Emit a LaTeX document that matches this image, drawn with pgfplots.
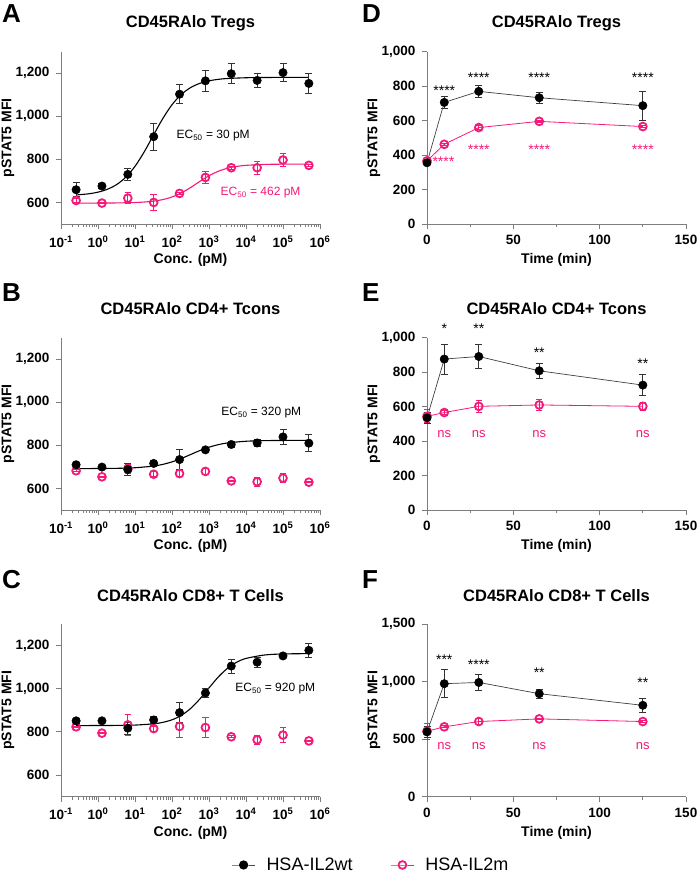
\documentclass[border=0pt]{standalone}
\usepackage{fontspec}
\setmainfont{Liberation Sans}
\usepackage{pgfplots}
\pgfplotsset{compat=1.18}
\definecolor{pk}{RGB}{245,25,120}
\definecolor{axgray}{RGB}{125,125,125}

\pgfplotsset{
  panelbase/.style={
    scale only axis, width=259pt, height=172.5pt,
    axis lines=left, axis line style={-, axgray, line width=0.9pt},
    tick align=outside, major tick length=5pt, minor tick length=3pt,
    tick style={axgray, line width=0.8pt},
    tick label style={font=\fontsize{13.5}{15}\selectfont\bfseries},
    yticklabel style={xshift=-3pt, font=\fontsize{13.5}{15}\selectfont\bfseries},
    xticklabel style={yshift=-3pt, font=\fontsize{13.5}{15}\selectfont\bfseries},
    /pgf/number format/1000 sep={,}, /pgf/number format/assume math mode=true,
    every axis y label/.style={at={(axis description cs:-0.2046,0.5)}, rotate=90, anchor=center, font=\fontsize{14}{16}\selectfont\bfseries},
    every axis x label/.style={at={(axis description cs:0.5,-0.2087)}, anchor=center, font=\fontsize{14}{16}\selectfont\bfseries},
    every axis title/.style={at={(axis description cs:0.5,1)}, anchor=center, yshift=28.5pt, font=\fontsize{16.5}{18}\selectfont\bfseries},
    clip=false,
    ylabel={pSTAT5 MFI},
  },
  panelconc/.style={panelbase, xmin=0.1, xmax=1e6, ymin=500, ymax=1300,
    ytick={600,800,1000,1200},
    xtick={0.1,1,10,100,1000,10000,100000,1000000},
    xticklabels={10\textsuperscript{-1},10\textsuperscript{0},10\textsuperscript{1},10\textsuperscript{2},10\textsuperscript{3},10\textsuperscript{4},10\textsuperscript{5},10\textsuperscript{6}},
    minor xtick={0.2,0.3,0.4,0.5,0.6,0.7,0.8,0.9,2,3,4,5,6,7,8,9,20,30,40,50,60,70,80,90,200,300,400,500,600,700,800,900,2000,3000,4000,5000,6000,7000,8000,9000,20000,30000,40000,50000,60000,70000,80000,90000,200000,300000,400000,500000,600000,700000,800000,900000},
    xlabel={Conc. (pM)}},
  paneltime/.style={panelbase, xmin=0, xmax=150, xtick={0,50,100,150}, minor xtick={25,75,125}, ymin=0, xlabel={Time (min)}},
  serieswt/.style={black, mark=*, mark size=4.2pt, mark options={solid, fill=black, draw=black, line width=0.5pt},
    error bars/y dir=both, error bars/y explicit, error bars/error mark=|,
    error bars/error bar style={black!80, line width=0.9pt, solid},
    error bars/error mark options={mark size=3.5pt, line width=0.9pt, black!80}},
  seriesmt/.style={pk, mark=o, mark size=3.9pt, mark options={solid, draw=pk, fill=white, line width=1.8pt},
    error bars/y dir=both, error bars/y explicit, error bars/error mark=|,
    error bars/error bar style={pk, line width=0.9pt, solid},
    error bars/error mark options={mark size=3.2pt, line width=0.9pt, pk}},
}
\tikzset{
  ectext/.style={font=\fontsize{12}{14}\selectfont, anchor=west},
  startext/.style={font=\fontsize{14}{16}\selectfont, anchor=center, yshift=-3pt},
  nstext/.style={font=\fontsize{13}{15}\selectfont, anchor=center, text=pk},
}

\begin{document}
\begin{tikzpicture}
\useasboundingbox (0pt,0pt) rectangle (698pt,-873pt);

% panel letters
\node[anchor=base west, inner sep=0, font=\fontsize{26}{28}\selectfont\bfseries] at (2pt,-22pt) {A};
\node[anchor=base west, inner sep=0, font=\fontsize{26}{28}\selectfont\bfseries] at (2pt,-301pt) {B};
\node[anchor=base west, inner sep=0, font=\fontsize{26}{28}\selectfont\bfseries] at (2pt,-588pt) {C};
\node[anchor=base west, inner sep=0, font=\fontsize{26}{28}\selectfont\bfseries] at (362pt,-22pt) {D};
\node[anchor=base west, inner sep=0, font=\fontsize{26}{28}\selectfont\bfseries] at (362pt,-301pt) {E};
\node[anchor=base west, inner sep=0, font=\fontsize{26}{28}\selectfont\bfseries] at (362pt,-588pt) {F};

% ---------- A ----------
\begin{axis}[xmode=log, log basis x=10, panelconc, at={(61pt,-224pt)}, anchor=south west, title={CD45RAlo Tregs}]
\addplot[pk, line width=1.1pt, smooth] coordinates {
(0.256,597.0) (1,597.2) (3.162,597.7) (10,599.6) (17.78,601.9) (31.62,606.0) (56.23,613.2) (100,625.3) (177.8,643.9) (316.2,668.9) (562.3,697.2) (1000,723.8) (1778,744.5) (3162,758.5) (5623,767.1) (10000,772.0) (31623,776.3) (100000,777.5) (500000,778)};
\addplot[black, line width=1.1pt, smooth] coordinates {
(0.256,634.7) (0.5623,640.1) (1,647.7) (1.778,660.8) (3.162,682.5) (5.623,716.9) (10,767.5) (17.78,834.7) (31.62,912.3) (56.23,988.7) (100,1053.1) (177.8,1100.6) (316.2,1132.4) (562.3,1152.2) (1000,1164.0) (1778,1170.9) (3162,1174.8) (10000,1178.3) (31623,1179.5) (100000,1179.8) (500000,1180)};
\addplot[seriesmt, only marks] table[x=x, y=y, y error=e] {
x y e
0.256 609 8
1.28 597 3
6.4 620 25
32 600 35
160 642 6
800 716 30
4000 761 8
20000 761 31
100000 797 31
500000 772 4
};
\addplot[serieswt, only marks] table[x=x, y=y, y error=e] {
x y e
0.256 659 32
1.28 676 12
6.4 730 27
32 905 62
160 1102 43
800 1164 47
4000 1197 47
20000 1166 31
100000 1202 43
500000 1152 45
};
\node[ectext] at (axis cs:107,909) {EC\textsubscript{50} = 30 pM};
\node[ectext, text=pk] at (axis cs:1660,644) {EC\textsubscript{50} = 462 pM};
\end{axis}

% ---------- B ----------
\begin{axis}[xmode=log, log basis x=10, panelconc, at={(61pt,-510pt)}, anchor=south west, title={CD45RAlo CD4+ Tcons}]
\addplot[black, line width=1.1pt, smooth] coordinates {
(0.256,692.1) (1,692.4) (3.162,693.3) (10,696.0) (31.62,703.8) (56.23,711.6) (100,723.2) (177.8,738.8) (316.2,757.1) (562.3,775.5) (1000,791.2) (1778,803.0) (3162,811.0) (10000,818.9) (31623,821.7) (100000,822.6) (500000,823)};
\addplot[seriesmt, only marks] table[x=x, y=y, y error=e] {
x y e
0.256 682 4
1.28 654 3
6.4 691 20
32 666 12
160 669 15
800 679 12
4000 635 3
20000 631 20
100000 648 22
500000 629 3
};
\addplot[serieswt, only marks] table[x=x, y=y, y error=e] {
x y e
0.256 710 6
1.28 699 5
6.4 688 29
32 716 12
160 734 46
800 779 6
4000 804 12
20000 811 15
100000 839 36
500000 810 39
};
\node[ectext] at (axis cs:1740,952) {EC\textsubscript{50} = 320 pM};
\end{axis}

% ---------- C ----------
\begin{axis}[xmode=log, log basis x=10, panelconc, at={(61pt,-796.5pt)}, anchor=south west, title={CD45RAlo CD8+ T Cells},
  legend style={draw=none, fill=none, font=\fontsize{18}{20}\selectfont, legend columns=2,
    at={(axis description cs:1.197,-0.397)}, anchor=center,
    /tikz/every even column/.append style={column sep=36pt},
    /tikz/every odd column/.append style={column sep=9pt}},
  legend image code/.code={\draw[mark repeat=2, mark phase=2, #1] plot coordinates {(0pt,0pt) (11.5pt,0pt) (23pt,0pt)};}]
\addplot[black, line width=1.1pt, smooth, forget plot] coordinates {
(0.256,829.0) (1,829.2) (3.162,829.7) (10,831.3) (31.62,837.0) (56.23,843.8) (100,855.7) (177.8,876.0) (316.2,907.8) (562.3,951.8) (1000,1003.6) (1778,1054.0) (3162,1094.7) (5623,1122.9) (10000,1140.4) (31623,1156.3) (100000,1161.1) (500000,1162.7)};
\addplot[seriesmt, only marks, forget plot] table[x=x, y=y, y error=e] {
x y e
0.256 823 4
1.28 794 3
6.4 832 50
32 815 12
160 825 50
800 820 48
4000 777 5
20000 763 20
100000 785 36
500000 758 3
};
\addplot[serieswt, only marks, forget plot] table[x=x, y=y, y error=e] {
x y e
0.256 851 12
1.28 851 4
6.4 817 27
32 855 18
160 889 47
800 980 20
4000 1105 32
20000 1123 23
100000 1152 5
500000 1178 33
};
\node[ectext] at (axis cs:4170,1002) {EC\textsubscript{50} = 920 pM};
\addlegendimage{black!70, line width=0.8pt, mark=*, mark size=4.2pt, mark options={solid, fill=black, draw=black}}
\addlegendentry{HSA-IL2wt}
\addlegendimage{pk, line width=0.8pt, mark=o, mark size=3.9pt, mark options={solid, draw=pk, fill=white, line width=1.8pt}}
\addlegendentry{HSA-IL2m}
\end{axis}

% ---------- D ----------
\begin{axis}[paneltime, at={(427pt,-224pt)}, anchor=south west, title={CD45RAlo Tregs},
  ymax=1000, ytick={0,200,400,600,800,1000}]
\addplot[seriesmt, line width=0.8pt] table[x=x, y=y, y error=e] {
x y e
0 366 8
10 462 6
30 559 12
65 595 5
125 565 5
};
\addplot[serieswt, black!75, line width=0.7pt] table[x=x, y=y, y error=e] {
x y e
0 355 10
10 705 35
30 769 37
65 732 32
125 686 83
};
\node[startext] at (axis cs:10,793) {****};
\node[startext] at (axis cs:30,865) {****};
\node[startext] at (axis cs:65,865) {****};
\node[startext] at (axis cs:125,865) {****};
\node[startext, text=pk] at (axis cs:9.5,379) {****};
\node[startext, text=pk] at (axis cs:30,447) {****};
\node[startext, text=pk] at (axis cs:65,447) {****};
\node[startext, text=pk] at (axis cs:125,447) {****};
\end{axis}

% ---------- E ----------
\begin{axis}[paneltime, at={(427pt,-510pt)}, anchor=south west, title={CD45RAlo CD4+ Tcons},
  ymax=1000, ytick={0,200,400,600,800,1000}]
\addplot[seriesmt, line width=0.8pt] table[x=x, y=y, y error=e] {
x y e
0 543 38
10 565 10
30 601 35
65 609 30
125 601 22
};
\addplot[serieswt, black!75, line width=0.7pt] table[x=x, y=y, y error=e] {
x y e
0 534 30
10 875 87
30 890 67
65 807 43
125 724 62
};
\node[startext] at (axis cs:10,1067) {*};
\node[startext] at (axis cs:30,1067) {**};
\node[startext] at (axis cs:65,929) {**};
\node[startext] at (axis cs:125,867) {**};
\node[nstext] at (axis cs:10,443) {ns};
\node[nstext] at (axis cs:30,443) {ns};
\node[nstext] at (axis cs:65,443) {ns};
\node[nstext] at (axis cs:125,443) {ns};
\end{axis}

% ---------- F ----------
\begin{axis}[paneltime, at={(427pt,-796.5pt)}, anchor=south west, title={CD45RAlo CD8+ T Cells},
  ymax=1500, ytick={0,500,1000,1500}]
\addplot[seriesmt, line width=0.8pt] table[x=x, y=y, y error=e] {
x y e
0 568 70
10 606 8
30 652 25
65 675 8
125 652 8
};
\addplot[serieswt, black!75, line width=0.7pt] table[x=x, y=y, y error=e] {
x y e
0 562 45
10 981 121
30 992 68
65 894 40
125 793 60
};
\node[startext] at (axis cs:10,1217) {***};
\node[startext] at (axis cs:30,1174) {****};
\node[startext] at (axis cs:65,1105) {**};
\node[startext] at (axis cs:125,1018) {**};
\node[nstext] at (axis cs:10,441) {ns};
\node[nstext] at (axis cs:30,441) {ns};
\node[nstext] at (axis cs:65,441) {ns};
\node[nstext] at (axis cs:125,441) {ns};
\end{axis}
\end{tikzpicture}
\end{document}
